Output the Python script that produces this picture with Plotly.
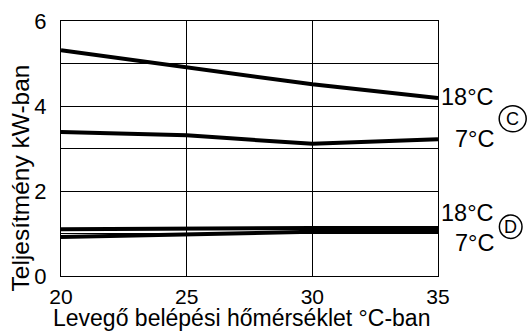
import plotly.graph_objects as go

# Data
temps = [20, 25, 30, 35]
c_18 = [5.31, 4.91, 4.51, 4.19]
c_7 = [3.39, 3.31, 3.11, 3.22]
d_18 = [1.10, 1.12, 1.13, 1.13]
d_7 = [0.92, 0.99, 1.04, 1.06]
x_ticks = [20, 25, 30, 35]
y_ticks = [0, 2, 4, 6]
x_title = "Levegő belépési hőmérséklet °C-ban"
y_title = "Teljesítmény kW-ban"

FONT = "Liberation Sans, Arial, sans-serif"

fig = go.Figure()
for ys in (c_18, c_7, d_18, d_7):
    fig.add_trace(go.Scatter(x=temps, y=ys, mode="lines",
                             line=dict(color="black", width=4),
                             showlegend=False, hoverinfo="skip"))

# Right-side labels
labels = [("18°C", 4.21), ("7°C", 3.22), ("18°C", 1.48), ("7°C", 0.78)]
for txt, yv in labels:
    fig.add_annotation(text=txt, xref="paper", x=1, xanchor="right", xshift=58,
                       yref="y", y=yv, yanchor="middle", showarrow=False,
                       font=dict(family=FONT, size=23.5, color="black"))

# Circled letters
circles = [("C", 3.70, 74.7, 13.5, 13), ("D", 1.16, 72.7, 11.3, 11.7)]
for letter, yv, dx, rx, ry in circles:
    fig.add_shape(type="circle", xref="paper", xsizemode="pixel", xanchor=1,
                  x0=dx - rx, x1=dx + rx, yref="y", ysizemode="pixel", yanchor=yv,
                  y0=-ry, y1=ry, line=dict(color="black", width=1.5))
    fig.add_annotation(text=letter, xref="paper", x=1, xanchor="center", xshift=dx,
                       yref="y", y=yv, yanchor="middle", showarrow=False,
                       font=dict(family=FONT, size=18, color="black"))

# Axis titles
fig.add_annotation(text=x_title, xref="paper", x=0, xanchor="center", xshift=180,
                   yref="paper", y=0, yanchor="middle", yshift=-42, showarrow=False,
                   font=dict(family=FONT, size=23, color="black"))
fig.add_annotation(text=y_title, xref="paper", x=0, xanchor="center", xshift=-41,
                   yref="paper", y=0.5, yanchor="middle", yshift=-30, textangle=-90,
                   showarrow=False,
                   font=dict(family=FONT, size=24.5, color="black"))

fig.update_layout(
    width=530, height=331,
    margin=dict(l=61, r=92, t=21, b=55),
    paper_bgcolor="white", plot_bgcolor="white",
    font=dict(family=FONT, size=21, color="black"),
    xaxis=dict(range=[20, 35], tickvals=x_ticks, showgrid=True, automargin=False,
               gridcolor="black", gridwidth=1, zeroline=False,
               showline=True, linecolor="black", linewidth=1, mirror=True,
               ticks="", ticklabelstandoff=2,
               tickfont=dict(family=FONT, size=21, color="black")),
    yaxis=dict(range=[0, 6], tickvals=y_ticks, showgrid=True, automargin=False,
               gridcolor="black", gridwidth=1, zeroline=False,
               showline=True, linecolor="black", linewidth=1, mirror=True,
               ticks="", ticklabelstandoff=9,
               minor=dict(dtick=1, showgrid=True, gridcolor="black", gridwidth=1),
               tickfont=dict(family=FONT, size=22, color="black")),
)

fig.write_html("out.html")
